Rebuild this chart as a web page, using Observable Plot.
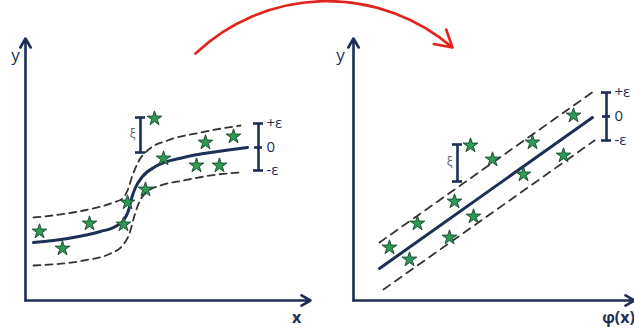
<!DOCTYPE html>
<html>
<head>
<meta charset="utf-8">
<script src="https://cdn.jsdelivr.net/npm/d3@7"></script>
<script src="https://cdn.jsdelivr.net/npm/@observablehq/plot@0.6"></script>
<style>
  html, body { margin: 0; padding: 0; background: #fff; }
  #chart svg { display: block; }
</style>
</head>
<body>
<div id="chart"></div>
<script>
// Coordinates are in diagram units (x to the right, y downward).
// Left panel: nonlinear regression tube
const leftCurveX = [33, 67, 100, 115, 123, 128, 131, 135, 142, 155, 183, 217, 247];
const leftCurveY = [242, 238, 231, 226, 220, 210, 198, 187, 176, 166, 157, 151, 147];
const leftUpperX = [33, 83, 113, 122, 127, 132, 138, 147, 167, 200, 240];
const leftUpperY = [217, 210, 202, 198, 190, 175, 161, 150, 140, 132, 125];
const leftLowerX = [33, 83, 110, 122, 129, 134, 139, 147, 160, 183, 217, 240];
const leftLowerY = [265, 260, 253, 245, 233, 215, 201, 191, 185, 180, 174, 172];
const leftStarX = [39, 62, 89, 123, 127, 145, 154, 163, 196, 205, 219, 233];
const leftStarY = [231, 248, 223, 224, 202, 189, 118, 158, 165, 142, 165, 136];

// Right panel: linear regression tube in feature space
const rightCurveX = [379, 592];
const rightCurveY = [268, 117];
const rightUpperX = [379, 593];
const rightUpperY = [242, 91];
const rightLowerX = [383, 594];
const rightLowerY = [289, 140];
const rightStarX = [389, 409, 417, 449, 454, 473, 470, 492, 523, 532, 563, 573];
const rightStarY = [247, 259, 223, 237, 201, 216, 145, 159, 174, 142, 155, 115];

// Axes (origin, top of y axis, end of x axis)
const axisOriginX = [25, 353];
const axisOriginY = [300, 300];
const axisTopY = [38, 38];
const axisEndX = [310, 634];
const axisYLabels = ["y", "y"];
const axisYLabelX = [15, 340];
const axisYLabelY = [55, 55];
const axisXLabels = ["x", "φ(x)"];
const axisXLabelX = [296, 618];
const axisXLabelY = [317, 317];

// Brackets: ξ (slack) and ε (tube half width)
const xiX = [140, 457];
const xiTop = [117, 144];
const xiBottom = [152, 181];
const xiLabelX = [132, 449];
const xiLabelY = [134, 162];
const epsX = [258, 606];
const epsTop = [123, 92];
const epsMid = [147, 116];
const epsBottom = [170, 140];
const epsLabels = ["+ε", "0", "-ε"];

// Red transformation arrow
const arrowStart = [195, 53];
const arrowEnd = [452, 47];

const navy = "#1c2f55";
const dashColor = "#333333";
const green = "#2e9a55";

const pts = (xs, ys) => xs.map((x, i) => ({x, y: ys[i]}));
const capHalf = 5;

const caps = [];
xiX.forEach((x, i) => {
  caps.push({x1: x - capHalf, x2: x + capHalf, y: xiTop[i]});
  caps.push({x1: x - capHalf, x2: x + capHalf, y: xiBottom[i]});
});
epsX.forEach((x, i) => {
  caps.push({x1: x - capHalf, x2: x + capHalf, y: epsTop[i]});
  caps.push({x1: x - capHalf, x2: x + capHalf, y: epsBottom[i]});
  caps.push({x1: x - 4, x2: x + 4, y: epsMid[i]});
});
const vbars = [
  ...xiX.map((x, i) => ({x, y1: xiTop[i], y2: xiBottom[i]})),
  ...epsX.map((x, i) => ({x, y1: epsTop[i], y2: epsBottom[i]}))
];
const epsText = [];
epsX.forEach((x, i) => {
  epsText.push({x: x + 8, y: epsTop[i], t: epsLabels[0]});
  epsText.push({x: x + 8, y: epsMid[i], t: epsLabels[1]});
  epsText.push({x: x + 8, y: epsBottom[i], t: epsLabels[2]});
});
const axesY = axisOriginX.map((x, i) => ({x1: x, y1: axisOriginY[i], x2: x, y2: axisTopY[i]}));
const axesX = axisOriginX.map((x, i) => ({x1: x, y1: axisOriginY[i], x2: axisEndX[i], y2: axisOriginY[i]}));

const font = "Open Sans, Lato, sans-serif";

const chart = Plot.plot({
  width: 634,
  height: 328,
  margin: 0,
  style: {background: "#fff", fontFamily: font},
  x: {domain: [0, 634], axis: null},
  y: {domain: [0, 328], reverse: true, axis: null},
  marks: [
    // Axes with arrow heads
    Plot.arrow(axesY, {x1: "x1", y1: "y1", x2: "x2", y2: "y2", stroke: navy, strokeWidth: 2.6, headLength: 6}),
    Plot.arrow(axesX, {x1: "x1", y1: "y1", x2: "x2", y2: "y2", stroke: navy, strokeWidth: 2.6, headLength: 6}),
    Plot.text(axisYLabels, {x: (d, i) => axisYLabelX[i], y: (d, i) => axisYLabelY[i], text: d => d, fill: navy, fontSize: 17}),
    Plot.text(axisXLabels, {x: (d, i) => axisXLabelX[i], y: (d, i) => axisXLabelY[i], text: d => d, fill: navy, fontSize: 16, fontWeight: "bold"}),

    // Dashed tube boundaries
    Plot.line(pts(leftUpperX, leftUpperY), {x: "x", y: "y", curve: "monotone-x", stroke: dashColor, strokeWidth: 1.8, strokeDasharray: "7,5"}),
    Plot.line(pts(leftLowerX, leftLowerY), {x: "x", y: "y", curve: "monotone-x", stroke: dashColor, strokeWidth: 1.8, strokeDasharray: "7,5"}),
    Plot.line(pts(rightUpperX, rightUpperY), {x: "x", y: "y", stroke: dashColor, strokeWidth: 1.8, strokeDasharray: "8,6"}),
    Plot.line(pts(rightLowerX, rightLowerY), {x: "x", y: "y", stroke: dashColor, strokeWidth: 1.8, strokeDasharray: "8,6"}),

    // Regression functions
    Plot.line(pts(leftCurveX, leftCurveY), {x: "x", y: "y", curve: "monotone-x", stroke: navy, strokeWidth: 3}),
    Plot.line(pts(rightCurveX, rightCurveY), {x: "x", y: "y", stroke: navy, strokeWidth: 3}),

    // Brackets
    Plot.ruleX(vbars, {x: "x", y1: "y1", y2: "y2", stroke: navy, strokeWidth: 2.6}),
    Plot.ruleY(caps, {y: "y", x1: "x1", x2: "x2", stroke: navy, strokeWidth: 2.6}),
    Plot.text(epsText, {x: "x", y: "y", text: "t", textAnchor: "start", fill: navy, fontSize: 15}),
    Plot.text(["ξ", "ξ"], {x: (d, i) => xiLabelX[i], y: (d, i) => xiLabelY[i], text: d => d, fill: "#5a6478", fontSize: 12}),

    // Data points
    Plot.dot(pts(leftStarX, leftStarY), {x: "x", y: "y", symbol: "star", r: 4.6, fill: green, stroke: "#1e4d34", strokeWidth: 1}),
    Plot.dot(pts(rightStarX, rightStarY), {x: "x", y: "y", symbol: "star", r: 4.6, fill: green, stroke: "#1e4d34", strokeWidth: 1}),

    // Red mapping arrow
    Plot.arrow([{x1: arrowStart[0], y1: arrowStart[1], x2: arrowEnd[0], y2: arrowEnd[1]}], {
      x1: "x1", y1: "y1", x2: "x2", y2: "y2", bend: 42, stroke: "#e3241c", strokeWidth: 2.6, headLength: 11
    })
  ]
});
document.getElementById("chart").appendChild(chart);
</script>
</body>
</html>
